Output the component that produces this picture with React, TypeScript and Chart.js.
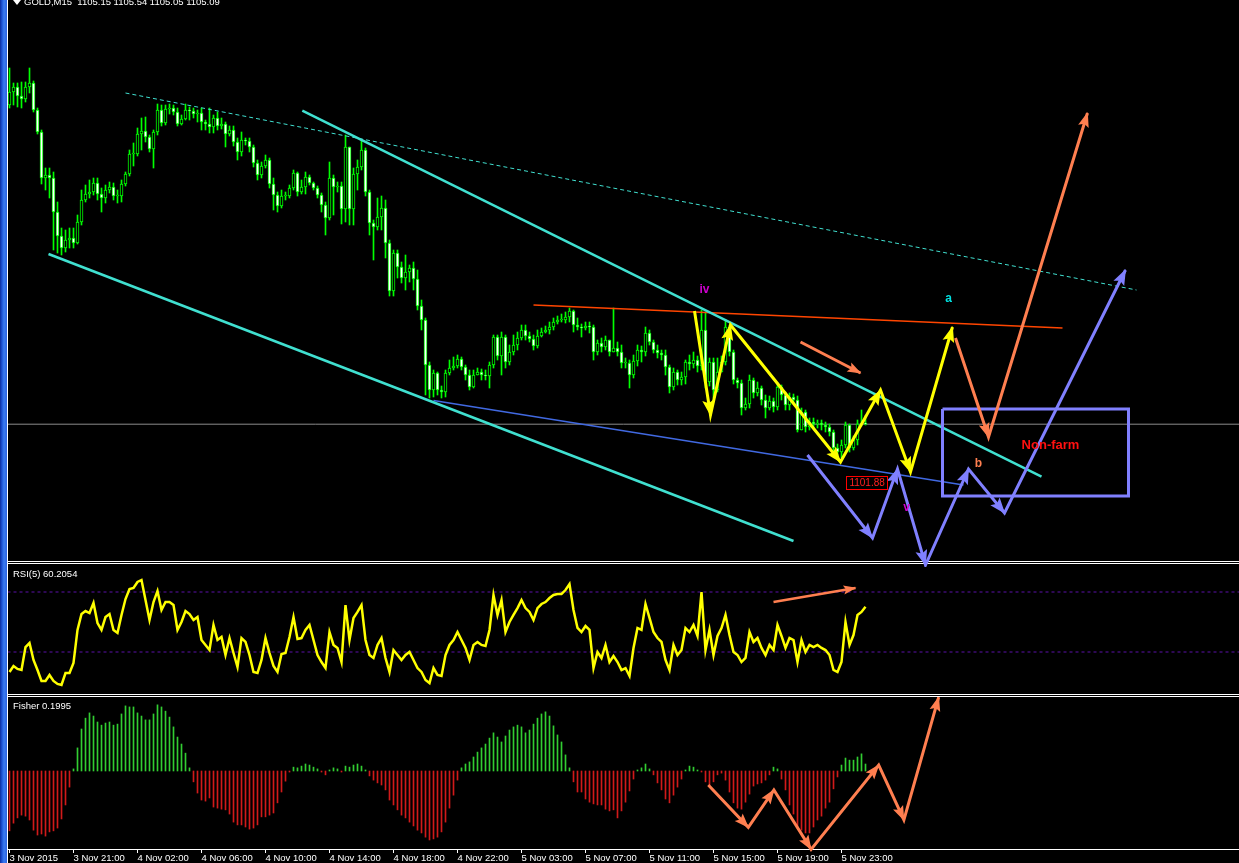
import React, { useEffect, useRef } from 'react';
import { Chart, registerables } from 'chart.js';

Chart.register(...registerables);

// ---------------- DATA ----------------
// GOLD M15 candles (index 0 = 3 Nov 2015 ~17:00)
const firstOpen = 1121.05;
const closes = [
  1121.70, 1121.95, 1121.50, 1121.35, 1121.95, 1122.15, 1120.80, 1119.70, 1117.40, 1117.55,
  1117.40, 1115.70, 1114.50, 1113.90, 1114.30, 1114.40, 1114.15, 1115.20, 1116.30, 1116.60,
  1116.70, 1117.15, 1116.60, 1116.40, 1116.80, 1116.95, 1116.50, 1116.50, 1117.10, 1117.60,
  1118.60, 1118.60, 1119.60, 1119.75, 1119.45, 1118.85, 1119.70, 1120.80, 1120.15, 1120.85,
  1120.90, 1120.70, 1120.10, 1120.35, 1120.80, 1120.75, 1120.60, 1120.65, 1120.20, 1120.10,
  1119.95, 1120.40, 1120.00, 1120.10, 1119.60, 1119.80, 1119.20, 1118.70, 1119.30, 1119.25,
  1118.95, 1118.15, 1117.55, 1118.00, 1118.30, 1117.10, 1116.55, 1116.00, 1116.50, 1116.50,
  1116.90, 1117.65, 1116.70, 1116.95, 1117.45, 1117.15, 1116.90, 1116.55, 1116.05, 1115.40,
  1117.40, 1116.95, 1117.00, 1115.85, 1118.95, 1115.85, 1117.60, 1117.95, 1118.80, 1116.70,
  1115.15, 1114.95, 1115.45, 1115.90, 1114.15, 1111.75, 1113.65, 1112.95, 1112.40, 1112.70,
  1112.90, 1112.35, 1111.00, 1110.30, 1108.05, 1106.80, 1107.65, 1106.80, 1106.70, 1107.65,
  1107.90, 1108.00, 1108.35, 1107.95, 1107.55, 1106.95, 1107.55, 1107.70, 1107.55, 1107.50,
  1108.05, 1109.45, 1108.50, 1109.45, 1108.20, 1108.70, 1109.05, 1109.40, 1109.80, 1109.50,
  1109.35, 1109.00, 1109.50, 1109.70, 1109.80, 1109.95, 1110.20, 1110.30, 1110.30, 1110.45,
  1110.75, 1110.05, 1109.95, 1109.90, 1110.00, 1109.95, 1108.70, 1109.15, 1108.95, 1109.30,
  1108.70, 1108.90, 1108.70, 1108.15, 1108.15, 1107.55, 1108.25, 1108.80, 1108.70, 1109.65,
  1109.20, 1108.80, 1108.65, 1108.55, 1107.95, 1106.95, 1107.70, 1107.30, 1107.45, 1108.20,
  1108.10, 1108.30, 1108.00, 1109.80, 1107.20, 1108.20, 1106.80, 1107.70, 1108.20, 1109.95,
  1108.70, 1107.30, 1107.15, 1105.90, 1106.10, 1107.30, 1106.65, 1106.90, 1106.30, 1105.90,
  1106.25, 1105.95, 1106.95, 1106.55, 1106.05, 1106.45, 1106.30, 1104.80, 1105.70, 1104.95,
  1105.20, 1105.10, 1105.15, 1105.05, 1104.95, 1104.70, 1103.90, 1103.70, 1104.05, 1105.05,
  1103.90, 1104.30, 1105.10, 1105.15, 1105.09,
];
const highs = [
  1122.90, 1122.15, 1122.15, 1122.20, 1122.20, 1122.90, 1122.25, 1120.90, 1119.80, 1117.90,
  1117.90, 1117.70, 1116.20, 1114.90, 1114.80, 1114.90, 1114.90, 1115.55, 1116.80, 1117.05,
  1117.30, 1117.40, 1117.40, 1116.90, 1117.05, 1117.20, 1117.15, 1116.80, 1117.30, 1117.70,
  1118.80, 1119.15, 1119.90, 1120.40, 1120.45, 1119.55, 1119.80, 1121.10, 1121.05, 1121.05,
  1121.10, 1121.05, 1120.90, 1120.55, 1121.10, 1120.95, 1120.90, 1120.80, 1120.90, 1120.30,
  1120.90, 1120.55, 1120.70, 1120.40, 1120.20, 1120.00, 1120.00, 1119.40, 1119.70, 1119.40,
  1119.40, 1119.05, 1118.30, 1118.20, 1118.55, 1118.40, 1117.40, 1116.70, 1116.80, 1116.70,
  1117.05, 1117.80, 1117.70, 1117.30, 1117.70, 1117.55, 1117.20, 1117.00, 1116.65, 1116.20,
  1118.20, 1117.55, 1117.20, 1117.20, 1119.55, 1118.95, 1117.90, 1118.30, 1119.30, 1118.90,
  1116.80, 1115.30, 1116.40, 1116.50, 1116.30, 1114.30, 1113.80, 1113.80, 1113.20, 1113.55,
  1113.05, 1113.20, 1112.80, 1111.30, 1110.40, 1108.20, 1107.80, 1107.70, 1107.00, 1107.80,
  1108.30, 1108.45, 1108.55, 1108.45, 1108.05, 1107.80, 1107.80, 1107.90, 1107.85, 1107.80,
  1108.20, 1109.55, 1109.55, 1109.70, 1109.55, 1109.05, 1109.55, 1109.70, 1110.05, 1110.05,
  1109.70, 1109.55, 1109.80, 1109.90, 1110.00, 1110.20, 1110.40, 1110.50, 1110.60, 1110.70,
  1110.90, 1110.80, 1110.40, 1110.10, 1110.20, 1110.20, 1110.05, 1109.30, 1109.40, 1109.50,
  1109.30, 1110.90, 1109.20, 1109.05, 1108.40, 1108.30, 1108.55, 1109.05, 1109.00, 1109.95,
  1109.80, 1109.30, 1109.05, 1108.80, 1108.80, 1108.05, 1107.90, 1107.80, 1107.70, 1108.30,
  1108.55, 1108.70, 1108.50, 1110.80, 1110.70, 1108.40, 1108.40, 1108.40, 1108.50, 1110.30,
  1110.05, 1108.80, 1107.40, 1107.30, 1106.40, 1107.55, 1107.40, 1107.20, 1107.00, 1106.55,
  1106.50, 1106.40, 1107.15, 1107.05, 1106.70, 1106.65, 1106.60, 1106.50, 1105.90, 1105.80,
  1105.40, 1105.40, 1105.30, 1105.30, 1105.20, 1105.10, 1104.80, 1104.10, 1104.30, 1105.20,
  1105.10, 1104.50, 1105.30, 1105.80, 1105.54,
];
const lows = [
  1120.90, 1121.05, 1120.95, 1120.90, 1121.20, 1121.65, 1120.70, 1119.60, 1117.10, 1116.80,
  1116.40, 1113.80, 1113.65, 1113.55, 1113.70, 1113.90, 1113.90, 1114.10, 1115.05, 1116.20,
  1116.40, 1116.55, 1116.30, 1115.70, 1116.15, 1116.65, 1116.30, 1116.15, 1116.20, 1117.00,
  1117.50, 1118.00, 1118.50, 1118.80, 1119.20, 1118.70, 1117.90, 1119.55, 1120.00, 1120.05,
  1120.60, 1120.55, 1120.00, 1120.05, 1120.30, 1120.30, 1120.40, 1120.20, 1119.80, 1119.80,
  1119.65, 1119.65, 1119.80, 1119.85, 1118.95, 1119.50, 1119.00, 1118.30, 1118.50, 1119.05,
  1118.70, 1117.95, 1117.30, 1117.40, 1117.90, 1116.90, 1115.80, 1115.70, 1115.90, 1116.30,
  1116.40, 1116.80, 1116.50, 1116.60, 1116.60, 1117.05, 1116.80, 1116.40, 1115.70, 1114.55,
  1115.30, 1115.55, 1116.70, 1115.10, 1115.20, 1115.05, 1115.05, 1116.80, 1117.80, 1116.50,
  1114.55, 1113.30, 1114.80, 1114.80, 1113.40, 1111.50, 1111.50, 1112.40, 1112.15, 1111.80,
  1112.20, 1111.80, 1110.80, 1109.80, 1106.55, 1106.40, 1106.45, 1106.55, 1106.40, 1106.45,
  1107.55, 1107.80, 1107.90, 1107.80, 1107.30, 1106.80, 1106.90, 1107.55, 1107.30, 1107.30,
  1106.90, 1107.90, 1108.30, 1107.55, 1107.90, 1108.05, 1108.55, 1108.80, 1109.30, 1109.30,
  1109.20, 1108.80, 1108.90, 1109.45, 1109.65, 1109.60, 1109.80, 1110.10, 1110.20, 1110.15,
  1110.20, 1109.70, 1109.80, 1109.45, 1109.80, 1109.65, 1108.30, 1108.55, 1108.70, 1108.80,
  1108.50, 1108.70, 1108.50, 1107.90, 1107.90, 1106.90, 1107.40, 1108.00, 1108.20, 1108.50,
  1109.05, 1108.65, 1108.40, 1108.30, 1107.55, 1106.65, 1106.80, 1107.05, 1107.05, 1107.10,
  1107.80, 1107.90, 1107.70, 1107.80, 1106.90, 1107.00, 1106.40, 1106.70, 1107.70, 1108.05,
  1108.50, 1107.10, 1106.90, 1105.55, 1105.80, 1105.90, 1106.40, 1106.50, 1106.05, 1105.40,
  1105.80, 1105.70, 1105.80, 1106.30, 1105.80, 1105.80, 1106.10, 1104.70, 1104.80, 1104.70,
  1104.80, 1104.90, 1104.90, 1104.80, 1104.70, 1104.50, 1103.70, 1103.55, 1103.40, 1103.90,
  1103.70, 1103.80, 1104.05, 1105.00, 1105.05,
];

// RSI(5)
const rsiValues = [
  16.7, 20.7, 18.7, 18.0, 33.3, 36.0, 24.7, 18.0, 10.7, 10.7,
  14.7, 10.7, 8.7, 8.0, 16.0, 16.0, 22.7, 44.7, 55.3, 57.3,
  56.0, 62.7, 49.3, 44.7, 53.3, 55.3, 44.7, 42.7, 54.7, 65.3,
  72.0, 72.7, 76.7, 78.0, 64.7, 51.3, 63.3, 70.7, 58.0, 63.3,
  63.3, 61.3, 44.7, 50.0, 57.3, 55.3, 51.3, 53.3, 38.0, 34.7,
  31.3, 48.0, 38.0, 40.0, 28.0, 39.3, 29.3, 20.0, 39.3, 36.7,
  28.0, 16.7, 16.0, 24.7, 39.3, 29.3, 20.7, 16.7, 28.7, 29.3,
  40.0, 53.3, 38.7, 39.3, 44.7, 48.0, 38.0, 28.0, 23.3, 19.3,
  43.3, 34.7, 32.7, 23.3, 61.3, 38.0, 52.7, 56.7, 61.3, 38.0,
  28.0, 26.0, 34.7, 39.3, 26.0, 16.7, 31.3, 28.0, 24.7, 28.0,
  30.0, 24.7, 19.3, 16.7, 11.3, 9.3, 19.3, 14.7, 14.0, 28.0,
  34.7, 38.0, 43.3, 38.0, 32.7, 24.7, 34.7, 36.7, 34.7, 34.0,
  44.7, 68.0, 54.7, 64.7, 43.3, 50.0, 54.7, 59.3, 64.7, 59.3,
  56.7, 51.3, 59.3, 62.0, 63.3, 66.0, 68.0, 68.7, 68.7, 71.3,
  75.3, 58.0, 46.0, 43.3, 47.3, 44.7, 19.3, 30.0, 26.0, 34.7,
  23.3, 27.3, 23.3, 18.0, 19.3, 14.0, 32.7, 46.0, 44.7, 62.0,
  52.7, 43.3, 39.3, 36.7, 24.7, 18.0, 34.7, 28.0, 31.3, 46.0,
  43.3, 48.0, 40.7, 70.0, 31.3, 44.7, 28.0, 40.7, 46.0, 54.7,
  41.3, 30.0, 28.0, 23.3, 26.0, 43.3, 36.7, 39.3, 32.7, 28.0,
  34.7, 31.3, 48.0, 40.7, 32.7, 39.3, 38.0, 23.3, 38.0, 30.0,
  34.7, 33.3, 34.7, 32.7, 31.3, 28.0, 18.0, 16.7, 23.3, 50.0,
  34.7, 41.3, 54.7, 56.7, 60.2,
];
const rsiLevels = [70, 30];

// Fisher transform histogram
const fisherValues = [
  -1.71, -1.49, -1.34, -1.26, -1.29, -1.40, -1.69, -1.83, -1.80, -1.86,
  -1.74, -1.71, -1.63, -1.37, -0.97, -0.46, 0.06, 0.66, 1.20, 1.51,
  1.66, 1.57, 1.40, 1.31, 1.37, 1.40, 1.31, 1.34, 1.63, 1.86,
  1.83, 1.83, 1.66, 1.57, 1.46, 1.46, 1.63, 1.89, 1.83, 1.71,
  1.54, 1.26, 0.97, 0.77, 0.51, 0.09, -0.31, -0.63, -0.83, -0.86,
  -0.77, -1.03, -1.06, -1.09, -1.11, -1.23, -1.46, -1.54, -1.54, -1.60,
  -1.66, -1.63, -1.54, -1.31, -1.31, -1.26, -1.20, -0.91, -0.60, -0.29,
  -0.03, 0.11, 0.09, 0.14, 0.20, 0.17, 0.11, 0.06, -0.03, -0.11,
  0.03, 0.09, 0.06, -0.03, 0.14, 0.11, 0.17, 0.20, 0.14, 0.03,
  -0.14, -0.26, -0.34, -0.40, -0.54, -0.83, -0.97, -1.11, -1.26, -1.34,
  -1.46, -1.57, -1.69, -1.77, -1.89, -1.97, -1.94, -1.89, -1.74, -1.46,
  -1.06, -0.69, -0.26, 0.09, 0.20, 0.26, 0.40, 0.54, 0.66, 0.77,
  0.94, 1.09, 0.97, 0.83, 1.00, 1.17, 1.26, 1.31, 1.26, 1.09,
  1.17, 1.34, 1.51, 1.63, 1.69, 1.57, 1.29, 1.03, 0.83, 0.46,
  0.09, -0.31, -0.60, -0.60, -0.80, -0.89, -0.94, -0.97, -0.97, -1.09,
  -1.14, -1.11, -1.34, -1.14, -0.89, -0.57, -0.23, 0.03, 0.09, 0.20,
  0.06, -0.11, -0.34, -0.54, -0.80, -0.91, -0.69, -0.46, -0.23, 0.03,
  0.14, 0.11, 0.03, -0.03, -0.31, -0.40, -0.31, -0.11, -0.06, -0.26,
  -0.60, -0.91, -1.06, -1.09, -0.89, -0.66, -0.43, -0.37, -0.34, -0.26,
  -0.11, 0.11, 0.06, -0.23, -0.54, -0.97, -1.23, -1.60, -1.69, -1.77,
  -1.77, -1.60, -1.40, -1.29, -1.06, -0.89, -0.51, -0.17, 0.17, 0.37,
  0.31, 0.31, 0.40, 0.49, 0.1995,
];

// time axis
const tickBars = [0, 16, 32, 48, 64, 80, 96, 112, 128, 144, 160, 176, 192, 208];
const tickLabels = [
  '3 Nov 2015', '3 Nov 21:00', '4 Nov 02:00', '4 Nov 06:00', '4 Nov 10:00', '4 Nov 14:00',
  '4 Nov 18:00', '4 Nov 22:00', '5 Nov 03:00', '5 Nov 07:00', '5 Nov 11:00', '5 Nov 15:00',
  '5 Nov 19:00', '5 Nov 23:00',
];

// drawn objects (bar index, price)
const bidPrice = 1105.09;
const dashedTrend = [[29, 1121.65], [281.75, 1111.8]];
const upperChannel = [[73.2, 1120.77], [258, 1102.47]];
const lowerChannel = [[9.75, 1113.6], [196, 1099.25]];
const resistanceLine = [[131, 1111.05], [263.25, 1109.9]];
const supportLine = [[106, 1106.27], [238.5, 1102.05]];
const yellowPath = [[171.25, 1110.75], [175.25, 1105.55], [180.25, 1110.05], [207.75, 1103.2], [217.75, 1106.8], [225.25, 1102.7], [235.75, 1109.95]];
const orangeSmall = [[197.75, 1109.2], [212.75, 1107.65]];
const orangePath = [[236.5, 1109.4], [244.75, 1104.45], [269.5, 1120.65]];
const bluePath = [[199.5, 1103.55], [215.75, 1099.4], [222, 1102.85], [229, 1098.05], [239.75, 1102.85], [248.75, 1100.65], [279, 1112.8]];
const nonFarmBox = [[233.25, 1105.85], [279.75, 1105.85], [279.75, 1101.5], [233.25, 1101.5], [233.25, 1105.85]];
const rsiArrow = [[191, 63.3], [211.5, 72.7]];
const fisherPath = [[174.7, -0.4], [184.7, -1.61], [191.1, -0.54], [200.4, -2.24], [217.3, 0.17], [223.6, -1.4], [232.3, 2.11]];

const priceTexts = [
  { text: 'iv', x: 173.75, y: 1111.8, color: '#d000d0', size: 12 },
  { text: 'a', x: 234.75, y: 1111.35, color: '#00e0e0', size: 12 },
  { text: 'b', x: 242.25, y: 1103.1, color: '#ff7f50', size: 12 },
  { text: 'v', x: 224.25, y: 1100.9, color: '#d000d0', size: 12 },
  { text: 'Non-farm', x: 260.25, y: 1104.05, color: '#ff1010', size: 13 },
];
const priceTag = { text: '1101.88', x: 214.4, y: 1102.18 };

// ---------------- HELPERS ----------------
const X_MIN = -0.375;
const X_MAX = 307.375;
const FONT = "'Liberation Sans', Arial, sans-serif";

const pts = (arr: number[][]) => arr.map(([x, y]) => ({ x, y }));

function lineDs(arr: number[][], color: string, width: number, extra: any = {}) {
  return {
    type: 'line',
    data: pts(arr),
    borderColor: color,
    backgroundColor: color,
    borderWidth: width,
    pointRadius: 0,
    tension: 0,
    fill: false,
    ...extra,
  };
}

const arrowPlugin = {
  id: 'arrowHeads',
  afterDatasetsDraw(chart: any) {
    const ctx = chart.ctx;
    chart.data.datasets.forEach((ds: any, di: number) => {
      if (!ds.arrowHead) return;
      const meta = chart.getDatasetMeta(di);
      const els = meta.data;
      const L = ds.arrowHead.len;
      const W = ds.arrowHead.width;
      for (let k = 1; k < els.length; k++) {
        const a = els[k - 1];
        const b = els[k];
        const ang = Math.atan2(b.y - a.y, b.x - a.x);
        const c = Math.cos(ang);
        const s = Math.sin(ang);
        ctx.save();
        ctx.fillStyle = ds.borderColor;
        ctx.beginPath();
        ctx.moveTo(b.x + c * 1, b.y + s * 1);
        ctx.lineTo(b.x - L * c + (W / 2) * s, b.y - L * s - (W / 2) * c);
        ctx.lineTo(b.x - L * c * 0.8, b.y - L * s * 0.8);
        ctx.lineTo(b.x - L * c - (W / 2) * s, b.y - L * s + (W / 2) * c);
        ctx.closePath();
        ctx.fill();
        ctx.restore();
      }
    });
  },
};

const priceTextPlugin = {
  id: 'priceTexts',
  afterDatasetsDraw(chart: any) {
    const ctx = chart.ctx;
    const xs = chart.scales.x;
    const ys = chart.scales.y;
    ctx.save();
    ctx.textAlign = 'center';
    ctx.textBaseline = 'middle';
    priceTexts.forEach((t) => {
      ctx.font = `bold ${t.size}px ${FONT}`;
      ctx.fillStyle = t.color;
      ctx.fillText(t.text, xs.getPixelForValue(t.x), ys.getPixelForValue(t.y));
    });
    // price tag box
    ctx.font = `10px ${FONT}`;
    const px = xs.getPixelForValue(priceTag.x);
    const py = ys.getPixelForValue(priceTag.y);
    const w = ctx.measureText(priceTag.text).width + 6;
    const h = 13;
    ctx.fillStyle = '#000';
    ctx.fillRect(Math.round(px - w / 2), Math.round(py - h / 2), Math.round(w), h);
    ctx.strokeStyle = '#ff0000';
    ctx.lineWidth = 1;
    ctx.strokeRect(Math.round(px - w / 2) + 0.5, Math.round(py - h / 2) + 0.5, Math.round(w), h);
    ctx.fillStyle = '#ff2020';
    ctx.fillText(priceTag.text, px, py + 1);
    ctx.restore();
  },
};

const hiddenX = {
  type: 'linear',
  min: X_MIN,
  max: X_MAX,
  display: false,
  offset: false,
  grid: { offset: false },
};

// ---------------- COMPONENT ----------------
export default function App() {
  const priceRef = useRef<HTMLCanvasElement>(null);
  const rsiRef = useRef<HTMLCanvasElement>(null);
  const fisherRef = useRef<HTMLCanvasElement>(null);

  useEffect(() => {
    const charts: Chart[] = [];
    const opens = closes.map((_, i) => (i === 0 ? firstOpen : closes[i - 1]));

    // ----- price chart -----
    const wicks = closes.map((_, i) => ({ x: i, y: [lows[i], highs[i]] }));
    const bodies = closes.map((c, i) => ({ x: i, y: [opens[i], c] }));
    const bodyFill = closes.map((c, i) => (c < opens[i] ? '#ffffff' : '#000000'));

    const priceChart = new Chart(priceRef.current as HTMLCanvasElement, {
      type: 'bar',
      data: {
        datasets: [
          lineDs(yellowPath, '#ffff00', 3, { order: 0, clip: false, arrowHead: { len: 15, width: 12 } }),
          lineDs(bluePath, '#8080ff', 3, { order: 0, clip: false, arrowHead: { len: 15, width: 12 } }),
          lineDs(orangeSmall, '#ff7f50', 3, { order: 0, clip: false, arrowHead: { len: 13, width: 10 } }),
          lineDs(orangePath, '#ff7f50', 3, { order: 0, clip: false, arrowHead: { len: 14, width: 11 } }),
          lineDs(nonFarmBox, '#8080ff', 3, { order: 0, borderJoinStyle: 'miter' }),
          lineDs(upperChannel, '#40e0d0', 2.5, { order: 1 }),
          lineDs(lowerChannel, '#40e0d0', 2.5, { order: 1 }),
          lineDs(dashedTrend, '#40e0d0', 1, { order: 1, borderDash: [4, 3] }),
          lineDs(resistanceLine, '#ff4500', 1.5, { order: 1 }),
          lineDs(supportLine, '#4169e1', 1.5, { order: 1 }),
          {
            type: 'bar',
            data: bodies,
            backgroundColor: bodyFill,
            borderColor: '#00ff00',
            borderWidth: 1,
            borderSkipped: false,
            barThickness: 3,
            minBarLength: 1,
            grouped: false,
            order: 2,
          },
          {
            type: 'bar',
            data: wicks,
            backgroundColor: '#00ff00',
            borderWidth: 0,
            barThickness: 1,
            grouped: false,
            order: 3,
          },
          lineDs([[-2, bidPrice], [310, bidPrice]], '#8c8c8c', 1, { order: 4 }),
        ] as any,
      },
      options: {
        responsive: false,
        animation: false,
        devicePixelRatio: 1,
        layout: { padding: { left: 0, right: 0, top: 0, bottom: 6 } },
        plugins: { legend: { display: false }, tooltip: { enabled: false } },
        events: [],
        scales: {
          x: hiddenX as any,
          y: { type: 'linear', min: 1098.25, max: 1126.3, display: false },
        },
      },
      plugins: [arrowPlugin, priceTextPlugin],
    } as any);
    charts.push(priceChart);

    // ----- RSI chart -----
    const rsiChart = new Chart(rsiRef.current as HTMLCanvasElement, {
      type: 'line',
      data: {
        datasets: [
          lineDs(rsiArrow, '#ff7f50', 2.5, { order: 0, clip: false, arrowHead: { len: 12, width: 9 } }),
          {
            type: 'line',
            data: rsiValues.map((v, i) => ({ x: i, y: v })),
            borderColor: '#ffff00',
            borderWidth: 2.5,
            pointRadius: 0,
            tension: 0,
            fill: false,
            order: 1,
          },
          ...rsiLevels.map((lv) =>
            lineDs([[-2, lv], [310, lv]], '#5a10a8', 1, { order: 2, borderDash: [3, 3] })
          ),
        ] as any,
      },
      options: {
        responsive: false,
        animation: false,
        devicePixelRatio: 1,
        layout: { padding: 0 },
        plugins: { legend: { display: false }, tooltip: { enabled: false } },
        events: [],
        scales: {
          x: hiddenX as any,
          y: { type: 'linear', min: 2.0, max: 88.667, display: false },
        },
      },
      plugins: [arrowPlugin],
    } as any);
    charts.push(rsiChart);

    // ----- Fisher chart -----
    const fisherChart = new Chart(fisherRef.current as HTMLCanvasElement, {
      type: 'bar',
      data: {
        datasets: [
          lineDs(fisherPath, '#ff7f50', 3, { order: 0, clip: false, arrowHead: { len: 14, width: 11 } }),
          {
            type: 'bar',
            data: fisherValues.map((v, i) => ({ x: i, y: v })),
            backgroundColor: fisherValues.map((v) => (v >= 0 ? '#32cd32' : '#d01a1a')),
            borderWidth: 0,
            barThickness: 1,
            grouped: false,
            order: 1,
          },
        ] as any,
      },
      options: {
        responsive: false,
        animation: false,
        devicePixelRatio: 1,
        layout: { padding: 0 },
        plugins: { legend: { display: false }, tooltip: { enabled: false } },
        events: [],
        scales: {
          x: {
            type: 'linear',
            min: X_MIN,
            max: X_MAX,
            offset: false,
            display: true,
            afterBuildTicks: (axis: any) => {
              axis.ticks = tickBars.map((v) => ({ value: v }));
            },
            afterFit: (axis: any) => {
              axis.height = 14;
            },
            grid: {
              offset: false,
              drawOnChartArea: false,
              drawTicks: true,
              tickLength: 4,
              color: '#ffffff',
            },
            border: { display: true, color: '#ffffff', width: 1 },
            ticks: {
              autoSkip: false,
              maxRotation: 0,
              minRotation: 0,
              align: 'start',
              padding: 0,
              color: '#ffffff',
              font: { family: FONT, size: 9.5 },
              callback: (value: any) => {
                const k = tickBars.indexOf(Number(value));
                return k >= 0 ? tickLabels[k] : '';
              },
            },
          },
          y: { type: 'linear', min: -2.2286, max: 2.1143, display: false },
        },
      },
      plugins: [arrowPlugin],
    } as any);
    charts.push(fisherChart);

    return () => {
      charts.forEach((c) => c.destroy());
    };
  }, []);

  const hLine = (top: number) => (
    <div style={{ position: 'absolute', left: 7, top, width: 1232, height: 1, background: '#ffffff', zIndex: 2 }} />
  );
  const label = (text: string, left: number, top: number) => (
    <div
      style={{
        position: 'absolute',
        left,
        top,
        color: '#ffffff',
        fontFamily: FONT,
        fontSize: '9.5px',
        lineHeight: '10px',
        whiteSpace: 'pre',
        zIndex: 4,
      }}
    >
      {text}
    </div>
  );

  return (
    <div
      style={{
        position: 'fixed',
        left: 0,
        top: 0,
        width: 1239,
        height: 863,
        background: '#000000',
        overflow: 'hidden',
      }}
    >
      <div
        style={{
          position: 'absolute',
          left: 0,
          top: 0,
          width: 7,
          height: 863,
          background: 'linear-gradient(to right, #0b2c9c 0px, #1d54d6 2px, #3b7cf0 4px, #2a63e2 7px)',
        }}
      />
      <div style={{ position: 'absolute', left: 7, top: 0, width: 1, height: 863, background: '#ffffff', zIndex: 2 }} />
      {hLine(561)}
      {hLine(563)}
      {hLine(694)}
      {hLine(696)}
      <canvas
        ref={priceRef}
        width={1231}
        height={567}
        style={{ position: 'absolute', left: 8, top: 0, width: 1231, height: 567, zIndex: 3 }}
      />
      <canvas
        ref={rsiRef}
        width={1231}
        height={130}
        style={{ position: 'absolute', left: 8, top: 564, width: 1231, height: 130, zIndex: 1 }}
      />
      <canvas
        ref={fisherRef}
        width={1231}
        height={166}
        style={{ position: 'absolute', left: 8, top: 697, width: 1231, height: 166, zIndex: 1 }}
      />
      <div
        style={{
          position: 'absolute',
          left: 13,
          top: 0,
          width: 0,
          height: 0,
          borderLeft: '4px solid transparent',
          borderRight: '4px solid transparent',
          borderTop: '5px solid #ffffff',
          zIndex: 4,
        }}
      />
      {label('GOLD,M15  1105.15 1105.54 1105.05 1105.09', 24, -3)}
      {label('RSI(5) 60.2054', 13, 569)}
      {label('Fisher 0.1995', 13, 701)}
    </div>
  );
}
